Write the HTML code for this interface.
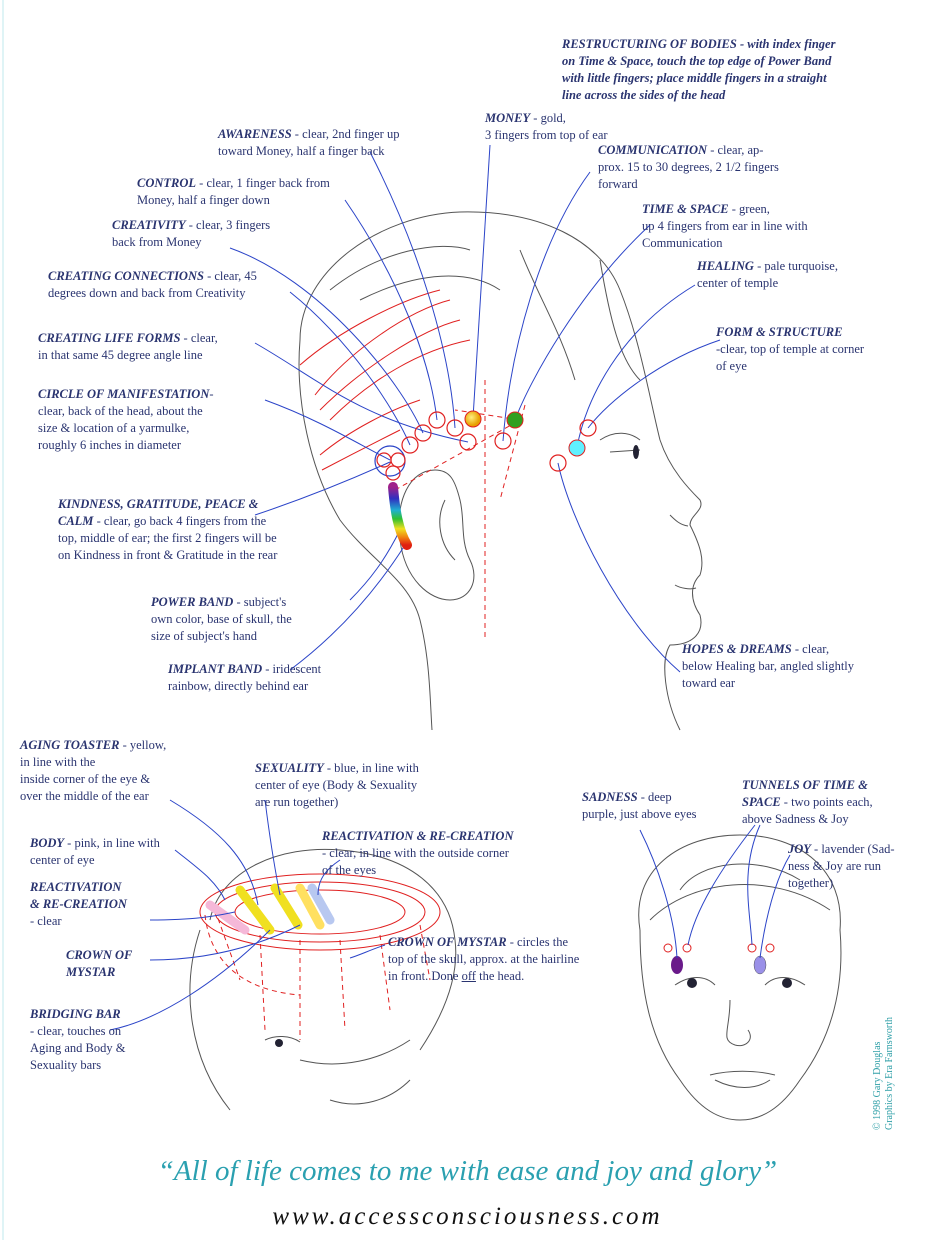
<!DOCTYPE html>
<html><head><meta charset="utf-8">
<style>
body{margin:0;background:#fff;}
#w{position:relative;width:935px;height:1240px;overflow:hidden;background:#fff;font-family:"Liberation Serif",serif;}
.t{position:absolute;font-size:12.5px;line-height:17px;color:#2a3470;white-space:nowrap;}
.t b{font-style:italic;font-weight:bold;}
svg{position:absolute;left:0;top:0;}
</style></head><body><div id="w">
<svg width="935" height="1240" viewBox="0 0 935 1240">
<defs>
<linearGradient id="rb" x1="0" y1="0" x2="0" y2="1">
<stop offset="0" stop-color="#a0208a"/><stop offset=".2" stop-color="#3030c0"/><stop offset=".4" stop-color="#20b0d0"/><stop offset=".55" stop-color="#30c030"/><stop offset=".72" stop-color="#f0e020"/><stop offset=".87" stop-color="#f08010"/><stop offset="1" stop-color="#e02010"/>
</linearGradient>
<radialGradient id="yg" cx=".4" cy=".4"><stop offset="0" stop-color="#fff080"/><stop offset="1" stop-color="#e8a000"/></radialGradient>
</defs>
<line x1="3" y1="0" x2="3" y2="1240" stroke="#bfe8ee" stroke-width="1"/>
<g fill="none" stroke="#555" stroke-width="1">
<!-- main head -->
<path d="M300,340 C300,270 380,215 460,212 C540,210 600,240 620,290 C640,340 650,400 660,440 C670,470 690,490 700,500 C705,510 690,515 690,525 C700,545 705,560 700,575 C690,585 690,600 700,615 C705,635 690,645 670,645 C660,660 665,700 680,730"/>
<path d="M300,340 C295,400 310,470 340,520 C370,560 410,580 420,620 C430,660 430,700 432,730"/>
<path d="M330,290 C380,250 440,240 470,250 M360,300 C420,270 470,270 500,290 M520,250 C540,300 560,330 575,380 M600,260 C610,320 620,360 640,380"/>
<path d="M435,470 C410,470 395,500 400,540 C405,580 430,600 450,600 C470,600 480,580 470,560 C460,540 465,520 460,500 C455,480 450,470 435,470"/>
<path d="M445,500 C435,520 440,545 455,560 M600,440 C615,430 630,432 640,440 M610,452 L640,450"/>
<path d="M670,515 C675,520 680,525 688,526"/>
<path d="M675,585 C680,588 690,590 696,588"/>
<!-- bottom left head -->
<path d="M210,920 C220,870 280,845 340,850 C410,855 450,890 455,940 C460,980 440,1020 420,1050"/>
<path d="M200,930 C180,990 190,1060 230,1110 M300,1060 C340,1070 380,1060 410,1040 M330,1100 C360,1110 390,1100 410,1080"/>
<path d="M265,1040 C275,1035 290,1035 300,1042"/>
<!-- bottom right face -->
<path d="M640,930 C630,870 680,835 740,835 C800,835 845,870 840,930 C845,990 830,1040 800,1080 C780,1110 760,1120 740,1120 C720,1120 700,1110 680,1080 C650,1040 640,990 640,930"/>
<path d="M650,920 C690,880 770,870 830,910 M680,890 C700,860 760,855 800,880"/>
<path d="M675,985 C690,975 705,975 715,985 M765,985 C775,975 790,975 805,985"/>
<path d="M730,1000 C730,1030 720,1040 735,1045 C745,1048 755,1040 748,1030"/>
<path d="M710,1075 C730,1070 755,1070 775,1075 M715,1080 C735,1090 755,1090 770,1080"/>
</g>
<g fill="#223">
<ellipse cx="636" cy="452" rx="3" ry="7"/><circle cx="279" cy="1043" r="4"/>
<circle cx="692" cy="983" r="5"/><circle cx="787" cy="983" r="5"/>
</g>
<!-- red lines main -->
<g fill="none" stroke="#e02020" stroke-width="1">
<path d="M315,395 C350,350 410,310 450,300 M320,410 C360,370 420,330 460,320 M330,420 C370,380 420,350 470,340 M300,365 C340,330 400,300 440,290"/>
<path d="M320,455 C350,430 390,410 420,400 M322,470 C360,450 380,440 400,430"/>
</g>
<g fill="none" stroke="#e02020" stroke-width="1" stroke-dasharray="5,4">
<path d="M485,380 L485,640 M395,490 L520,420 M520,420 L455,410 M525,405 L500,500"/>
</g>
<!-- leader lines main -->
<g fill="none" stroke="#2b44c8" stroke-width="1">
<path d="M490,145 L473,418"/>
<path d="M370,152 C420,250 450,350 455,428"/>
<path d="M590,172 C540,240 510,350 503,441"/>
<path d="M345,200 C400,280 430,360 437,420"/>
<path d="M650,225 C580,290 530,380 515,420"/>
<path d="M230,248 C320,280 400,380 423,433"/>
<path d="M695,285 C620,330 585,400 577,448"/>
<path d="M290,292 C350,340 395,410 410,445"/>
<path d="M720,340 C660,360 610,400 588,428"/>
<path d="M255,343 C320,380 360,420 468,442"/>
<path d="M265,400 C320,420 360,445 390,460"/>
<path d="M255,515 C300,500 350,480 390,462"/>
<path d="M350,600 C370,580 385,560 400,530"/>
<path d="M290,670 C330,640 370,600 405,545"/>
<path d="M680,672 C620,620 570,520 558,463"/>
</g>
<circle cx="390" cy="461" r="15" fill="none" stroke="#2b44c8" stroke-width="1.2"/>
<g fill="none" stroke="#e02020" stroke-width="1.2">
<circle cx="437" cy="420" r="8"/><circle cx="455" cy="428" r="8"/><circle cx="423" cy="433" r="8"/><circle cx="410" cy="445" r="8"/><circle cx="468" cy="442" r="8"/><circle cx="503" cy="441" r="8"/><circle cx="588" cy="428" r="8"/><circle cx="558" cy="463" r="8"/><circle cx="398" cy="460" r="7"/><circle cx="384" cy="460" r="7"/><circle cx="393" cy="473" r="7"/>
</g>
<circle cx="473" cy="419" r="8" fill="url(#yg)" stroke="#e02020"/>
<circle cx="515" cy="420" r="8" fill="#30a020" stroke="#e02020"/>
<circle cx="577" cy="448" r="8" fill="#60f0ff" stroke="#e02020"/>
<path d="M393,487 C395,510 398,530 407,545" stroke="url(#rb)" stroke-width="10" stroke-linecap="round" fill="none"/>
<!-- bottom-left crown -->
<g fill="none" stroke="#e02020" stroke-width="1">
<ellipse cx="320" cy="912" rx="120" ry="38"/><ellipse cx="320" cy="912" rx="105" ry="30"/><ellipse cx="320" cy="912" rx="85" ry="22"/>
<path d="M205,915 C210,960 240,990 300,995 M215,910 L240,980 M260,935 L265,1030 M300,940 L300,1040 M340,940 L345,1030 M380,935 L390,1010 M420,925 L430,980" stroke-dasharray="5,4"/>
</g>
<g stroke-width="9" stroke-linecap="round" fill="none">
<path d="M210,905 L245,930" stroke="#f5b8d8"/>
<path d="M240,890 L270,930" stroke="#f0e020"/>
<path d="M275,888 L298,925" stroke="#f0e020"/>
<path d="M300,888 L320,925" stroke="#ffe060"/>
<path d="M312,888 L330,920" stroke="#b8c8f0"/>
</g>
<g fill="none" stroke="#2b44c8" stroke-width="1">
<path d="M170,800 C220,830 250,860 258,905"/><path d="M265,800 C270,840 275,870 280,895"/><path d="M340,860 C325,870 318,880 318,895"/><path d="M175,850 C200,870 215,880 225,900"/><path d="M150,920 C200,920 220,915 235,912"/><path d="M150,960 C200,960 250,950 300,925"/><path d="M385,945 C370,950 360,955 350,958"/><path d="M110,1030 C160,1020 220,980 270,930"/>
</g>
<!-- bottom right dots -->
<g fill="none" stroke="#e02020" stroke-width="1"><circle cx="668" cy="948" r="4"/><circle cx="687" cy="948" r="4"/><circle cx="752" cy="948" r="4"/><circle cx="770" cy="948" r="4"/></g>
<ellipse cx="677" cy="965" rx="6" ry="9" fill="#6a1a8a"/>
<ellipse cx="760" cy="965" rx="6" ry="9" fill="#9a90e8" stroke="#555" stroke-width=".5"/>
<g fill="none" stroke="#2b44c8" stroke-width="1">
<path d="M640,830 C660,870 675,920 677,958"/><path d="M755,825 C720,870 695,910 688,945"/><path d="M760,825 C740,870 750,910 752,945"/><path d="M790,855 C775,880 765,920 760,958"/>
</g>
</svg>

<div class="t" style="left:562px;top:36px"><b>RESTRUCTURING OF BODIES</b> <b style="font-weight:bold">- with index finger</b><br><b>on Time &amp; Space, touch the top edge of Power Band</b><br><b>with little fingers; place middle fingers in a straight</b><br><b>line across the sides of the head</b></div>
<div class="t" style="left:485px;top:110px"><b>MONEY</b> - gold,<br>3 fingers from top of ear</div>
<div class="t" style="left:218px;top:126px"><b>AWARENESS</b> - clear, 2nd finger up<br>toward Money, half a finger back</div>
<div class="t" style="left:598px;top:142px"><b>COMMUNICATION</b> - clear, ap-<br>prox. 15 to 30 degrees, 2 1/2 fingers<br>forward</div>
<div class="t" style="left:137px;top:175px"><b>CONTROL</b> - clear, 1 finger back from<br>Money, half a finger down</div>
<div class="t" style="left:642px;top:201px"><b>TIME &amp; SPACE</b> - green,<br>up 4 fingers from ear in line with<br>Communication</div>
<div class="t" style="left:112px;top:217px"><b>CREATIVITY</b> - clear, 3 fingers<br>back from Money</div>
<div class="t" style="left:697px;top:258px"><b>HEALING</b> - pale turquoise,<br>center of temple</div>
<div class="t" style="left:48px;top:268px"><b>CREATING CONNECTIONS</b> - clear, 45<br>degrees down and back from Creativity</div>
<div class="t" style="left:38px;top:330px"><b>CREATING LIFE FORMS</b> - clear,<br>in that same 45 degree angle line</div>
<div class="t" style="left:716px;top:324px"><b>FORM &amp; STRUCTURE</b><br>-clear, top of temple at corner<br>of eye</div>
<div class="t" style="left:38px;top:386px"><b>CIRCLE OF MANIFESTATION</b>-<br>clear, back of the head, about the<br>size &amp; location of a yarmulke,<br>roughly 6 inches in diameter</div>
<div class="t" style="left:58px;top:496px"><b>KINDNESS, GRATITUDE, PEACE &amp;</b><br><b>CALM</b> - clear, go back 4 fingers from the<br>top, middle of ear; the first 2 fingers will be<br>on Kindness in front &amp; Gratitude in the rear</div>
<div class="t" style="left:151px;top:594px"><b>POWER BAND</b> - subject's<br>own color, base of skull, the<br>size of subject's hand</div>
<div class="t" style="left:168px;top:661px"><b>IMPLANT BAND</b> - iridescent<br>rainbow, directly behind ear</div>
<div class="t" style="left:682px;top:641px"><b>HOPES &amp; DREAMS</b> - clear,<br>below Healing bar, angled slightly<br>toward ear</div>
<div class="t" style="left:20px;top:737px"><b>AGING TOASTER</b> - yellow,<br>in line with the<br>inside corner of the eye &amp;<br>over the middle of the ear</div>
<div class="t" style="left:255px;top:760px"><b>SEXUALITY</b> - blue, in line with<br>center of eye (Body &amp; Sexuality<br>are run together)</div>
<div class="t" style="left:322px;top:828px"><b>REACTIVATION &amp; RE-CREATION</b><br>- clear, in line with the outside corner<br>of the eyes</div>
<div class="t" style="left:30px;top:835px"><b>BODY</b> - pink, in line with<br>center of eye</div>
<div class="t" style="left:30px;top:879px"><b>REACTIVATION</b><br><b>&amp; RE-CREATION</b><br>- clear</div>
<div class="t" style="left:66px;top:947px"><b>CROWN OF</b><br><b>MYSTAR</b></div>
<div class="t" style="left:388px;top:934px"><b>CROWN OF MYSTAR</b> - circles the<br>top of the skull, approx. at the hairline<br>in front.  Done <u>off</u> the head.</div>
<div class="t" style="left:30px;top:1006px"><b>BRIDGING BAR</b><br>- clear, touches on<br>Aging and Body &amp;<br>Sexuality bars</div>
<div class="t" style="left:582px;top:789px"><b>SADNESS</b> - deep<br>purple, just above eyes</div>
<div class="t" style="left:742px;top:777px"><b>TUNNELS OF TIME &amp;</b><br><b>SPACE</b> - two points each,<br>above Sadness &amp; Joy</div>
<div class="t" style="left:788px;top:841px"><b>JOY</b> - lavender (Sad-<br>ness &amp; Joy are run<br>together)</div>
<div style="position:absolute;left:872px;top:1130px;transform:rotate(-90deg);transform-origin:0 0;font-size:10px;line-height:12px;color:#30a0a8;white-space:nowrap;font-family:'Liberation Serif',serif">© 1998 Gary Douglas<br>Graphics by Era Farnsworth</div>
<div style="position:absolute;left:0;width:935px;top:1155px;text-align:center;font-size:29px;font-style:italic;color:#2aa0b0;font-family:'Liberation Serif',serif">“All of life comes to me with ease and joy and glory”</div>
<div style="position:absolute;left:0;width:935px;top:1203px;text-align:center;font-size:25px;font-style:italic;letter-spacing:3px;color:#111;font-family:'Liberation Serif',serif">www.accessconsciousness.com</div>
</div></body></html>
